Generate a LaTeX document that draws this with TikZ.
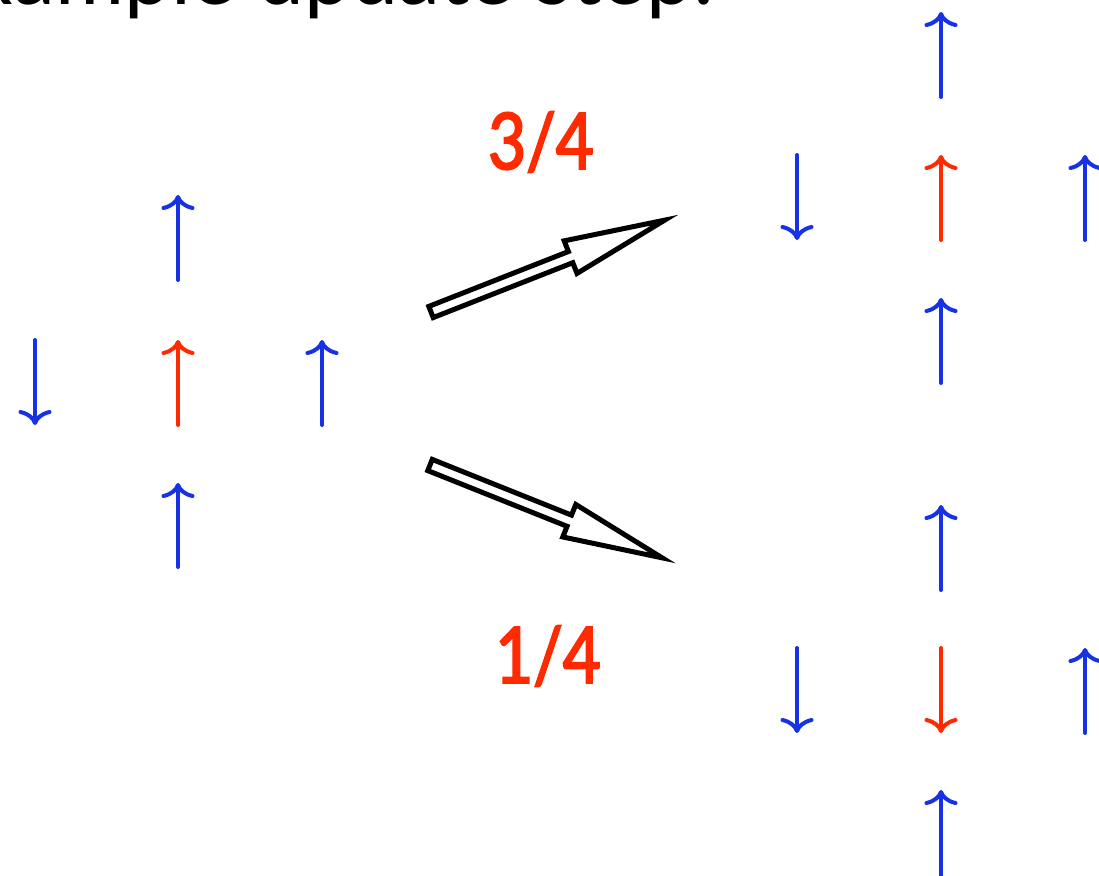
\documentclass[tikz,border=0pt]{standalone}
\usepackage{fontspec}
\setmainfont{Lato}
\newfontfamily\probfont[FakeStretch=0.84, FakeBold=2.5]{Lato}
\usetikzlibrary{arrows.meta}
\definecolor{spinblue}{RGB}{22,50,228}
\definecolor{spinred}{RGB}{255,42,0}
\tikzset{
  spin/.style={line width=4pt, line cap=round,
    -{Computer Modern Rightarrow[length=15pt,width=33pt,line width=4pt]}},
  fat/.style={line width=5pt, draw=black, fill=white, line join=miter},
  prob/.style={text=spinred, font=\probfont\fontsize{78}{80}\selectfont, inner sep=0pt},
}
% spin arrow: \spinarrow{x}{y-from}{y-to}{colour}, y in picture units (downwards)
\newcommand\spinarrow[4]{\draw[spin,#4] (#1,-#2) -- (#1,-#3);}
\begin{document}
\begin{tikzpicture}[x=1pt,y=1pt]
\useasboundingbox (0,0) rectangle (1099,-875);
\clip (0,0) rectangle (1099,-875);

% heading
\node[anchor=base east, inner sep=0pt, font=\fontsize{84}{86}\selectfont] (title) at (714,-5) {Example update step:};

% starting configuration
\spinarrow{178}{280}{195}{spinblue}
\spinarrow{35}{340}{425}{spinblue}
\spinarrow{178}{425}{340}{spinred}
\spinarrow{322}{425}{340}{spinblue}
\spinarrow{178}{567}{483}{spinblue}

% centre spin kept up
\spinarrow{941}{97}{12}{spinblue}
\spinarrow{797}{155}{240}{spinblue}
\spinarrow{941}{240}{155}{spinred}
\spinarrow{1085}{240}{155}{spinblue}
\spinarrow{941}{383}{298}{spinblue}

% centre spin flipped down
\spinarrow{941}{590}{505}{spinblue}
\spinarrow{797}{648}{733}{spinblue}
\spinarrow{941}{648}{733}{spinred}
\spinarrow{1085}{733}{648}{spinblue}
\spinarrow{941}{877}{790}{spinblue}

% transition arrows
\begin{scope}[shift={(431,-312)}, rotate=21.46]
  \draw[fat] (0,-6) -- (150,-6) -- (150,-17.5) -- (251,0) -- (150,17.5) -- (150,6) -- (0,6) -- cycle;
\end{scope}
\begin{scope}[shift={(430,-465)}, rotate=-21.8]
  \draw[fat] (0,-6) -- (150,-6) -- (150,-17.5) -- (250,0) -- (150,17.5) -- (150,6) -- (0,6) -- cycle;
\end{scope}

% transition probabilities
\node[prob] (pup) at (541,-142) {3/4};
\node[prob] (pdown) at (548,-656) {1/4};
\end{tikzpicture}
\end{document}
